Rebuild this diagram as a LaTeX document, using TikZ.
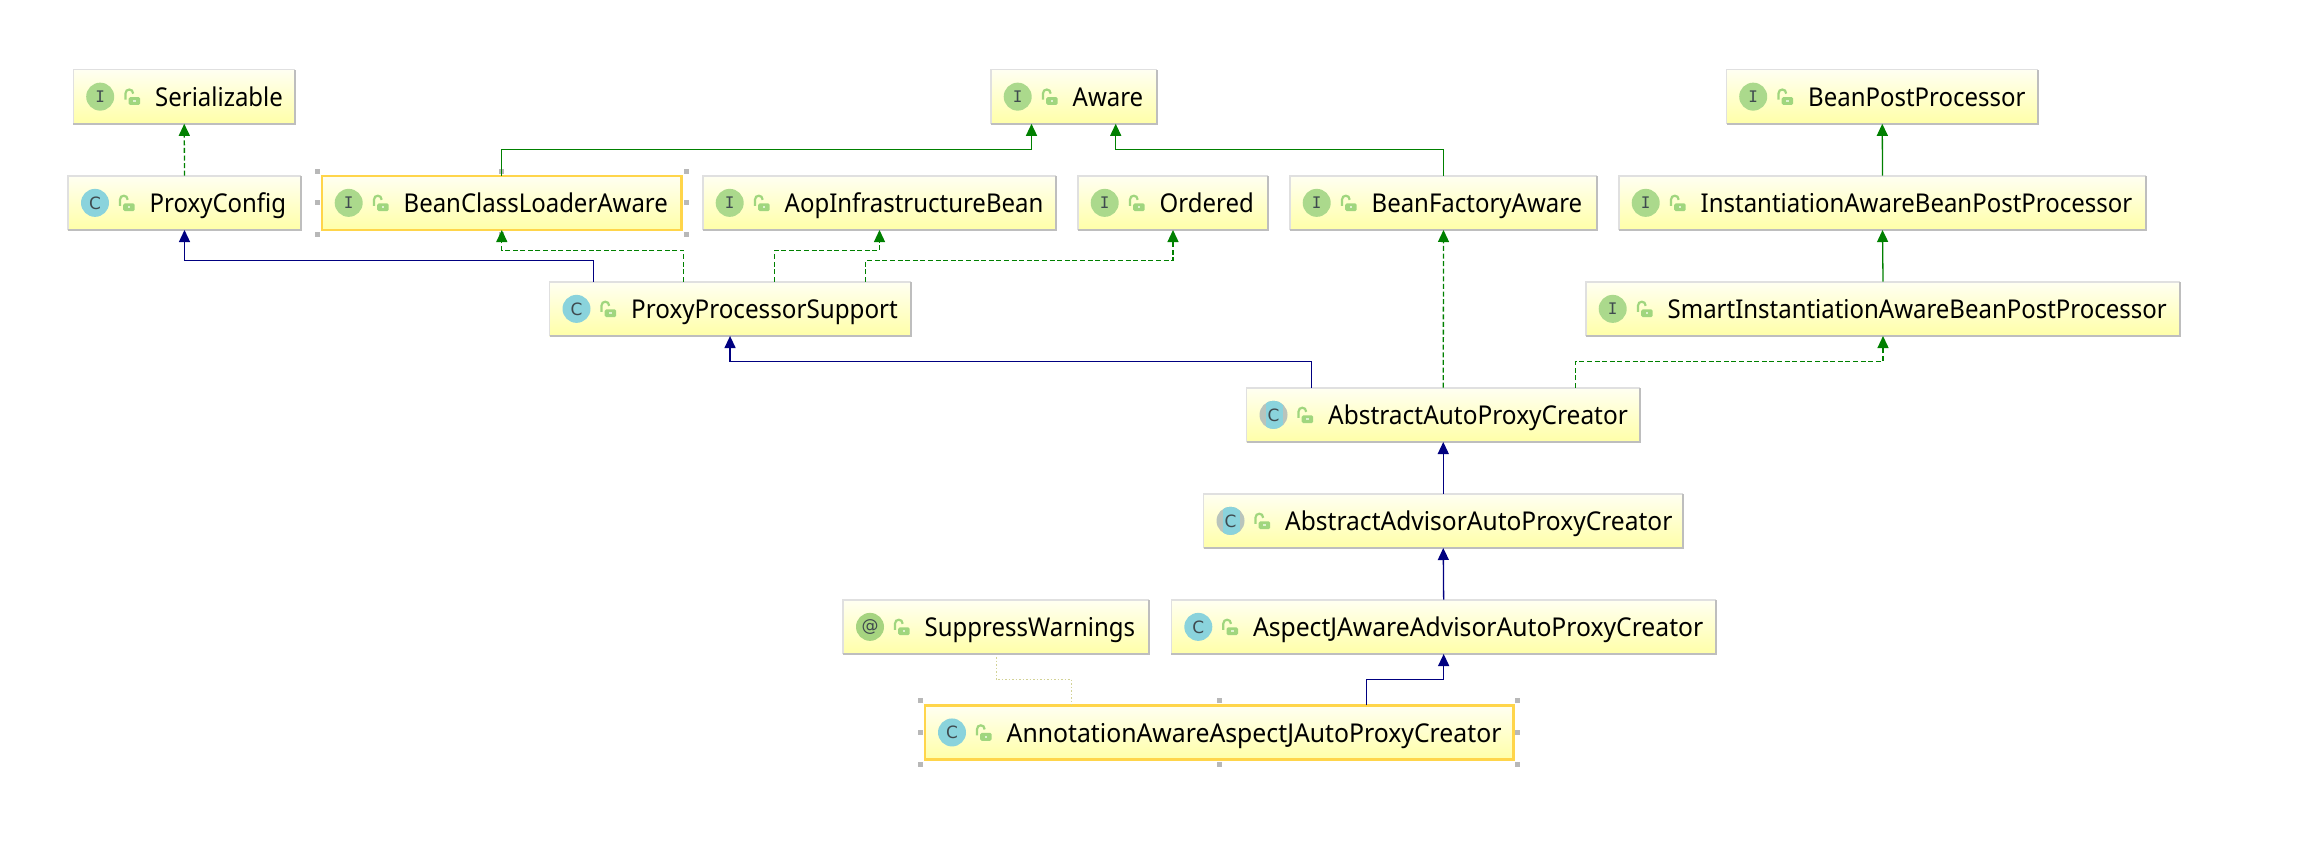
\documentclass[tikz,border=0pt]{standalone}
\usepackage{fontspec}
\usepackage{graphicx}
\setmainfont[FakeStretch=0.925]{Noto Sans}
\newfontfamily\iconmono{DejaVu Sans Mono}
\newfontfamily\iconsans{DejaVu Sans}
\usetikzlibrary{arrows.meta,calc}
\definecolor{impl}{HTML}{008000}
\definecolor{ext}{HTML}{000080}
\definecolor{ifcol}{HTML}{ABD98C}
\definecolor{clcol}{HTML}{8AD3DC}
\definecolor{atcol}{HTML}{A6D480}
\definecolor{lockcol}{HTML}{A0D67E}
\definecolor{lockdot}{HTML}{DDF2CF}
\definecolor{sel}{HTML}{FFD54A}
\definecolor{edgelt}{HTML}{E0E0E0}
\definecolor{edgedk}{HTML}{BEBEBE}
\definecolor{letter}{HTML}{3F4A4F}
\definecolor{gradtop}{HTML}{FFFFF2}
\definecolor{gradbot}{HTML}{FFFFA8}
\definecolor{absgray}{HTML}{B9C4BC}
\definecolor{dotcol}{HTML}{D2D296}
\definecolor{handlecol}{HTML}{B8B8B8}
\tikzset{
 boxbase/.style={rectangle,inner sep=0pt,outer sep=0pt,minimum height=54.3bp,top color=gradtop,bottom color=gradbot},
 lightedge/.style={draw=edgelt,line width=1.6bp},
 darkedge/.style={draw=edgedk,line width=2bp},
 seledge/.style={draw=sel,line width=2.4bp},
 handle/.style={rectangle,fill=handlecol,draw=none,minimum size=5bp,inner sep=0pt},
 iconcirc/.style={circle,minimum size=28bp,inner sep=0pt,text=letter},
 lab/.style={anchor=base west,inner sep=0pt,font=\fontsize{26}{30}\selectfont,text=black},
 real/.style={-{Triangle[width=11bp,length=12bp]},line width=1.3bp},
 dsh/.style={real,dash pattern=on 5bp off 2.6bp},
 lockpic/.pic={
  \draw[lockcol,line width=2.2bp] (1.2,3) -- (1.2,-3) .. controls (1.2,-8.5) and (9,-8.5) .. (9,-3);
  \fill[lockcol,rounded corners=1.5bp] (4.5,0.5) rectangle (16,8.3);
  \fill[lockdot] (9,3.2) rectangle (11.6,5.6);
 }
}
\newcommand{\iconI}[1]{\node[iconcirc,fill=ifcol,font=\iconmono\fontsize{16}{16}\selectfont] (#1-i) at ([xshift=26.7bp]#1.west) {I};}
\newcommand{\iconC}[1]{\node[iconcirc,fill=clcol,font=\iconsans\fontsize{17}{17}\selectfont] (#1-i) at ([xshift=27bp]#1.west) {C};}
\newcommand{\iconA}[1]{\node[iconcirc,fill=atcol,font=\iconsans\fontsize{17}{17}\selectfont] (#1-i) at ([xshift=27bp]#1.west) {@};}
\newcommand{\iconB}[1]{%
 \node[iconcirc,fill=absgray] (#1-i) at ([xshift=27bp]#1.west) {};
 \begin{scope}\clip (#1-i.center) circle (14bp);
  \fill[clcol] ([xshift=-8bp,yshift=15bp]#1-i.center) rectangle ([xshift=9bp,yshift=-15bp]#1-i.center);
 \end{scope}
 \node[font=\iconsans\fontsize{17}{17}\selectfont,text=letter,inner sep=0pt] at (#1-i.center) {C};}
\newcommand{\umlbox}[7][1]{%
 \pgfmathsetmacro\cxx{(#3+#4)/2}\pgfmathsetmacro\wdd{#4-#3}\pgfmathsetmacro\cyy{#5+27.15}
 \node[boxbase,minimum width=\wdd bp] (#2) at (\cxx,\cyy) {};
 \draw[lightedge] (#2.south west) |- (#2.north east);
 \draw[darkedge] (#2.south west) -| (#2.north east);
 \csname icon#6\endcsname{#2}
 \pic at ([xshift=50.7bp]#2.west) {lockpic};
 \node[lab] (#2-t) at ([xshift=81.5bp,yshift=-10bp]#2.west) {\scalebox{#1}[1]{#7}};}
\newcommand{\selmark}[1]{%
 \draw[seledge] (#1.south west) rectangle (#1.north east);
 \foreach \a/\dx/\dy in {north west/-4.5/4.5,north/0/4.5,north east/4.5/4.5,west/-4.5/0,east/4.5/0,south west/-4.5/-4.5,south/0/-4.5,south east/4.5/-4.5}
  {\node[handle] at ([xshift=\dx bp,yshift=\dy bp]#1.\a) {};}}
\begin{document}
\begin{tikzpicture}[x=1bp,y=-1bp]
\useasboundingbox[fill=white] (0,0) rectangle (2324,853);
\umlbox{ser}{73.5}{295}{69.5}{I}{Serializable}
\umlbox{aware}{991}{1157}{69.5}{I}{Aware}
\umlbox{bpp}{1726.5}{2038}{69.5}{I}{BeanPostProcessor}
\umlbox{pc}{68}{301}{175.7}{C}{ProxyConfig}
\umlbox{bcl}{322}{681.6}{175.7}{I}{BeanClassLoaderAware}
\umlbox{aop}{703}{1056}{175.7}{I}{AopInfrastructureBean}
\umlbox{ord}{1078}{1268}{175.7}{I}{Ordered}
\umlbox{bfa}{1290}{1597}{175.7}{I}{BeanFactoryAware}
\umlbox{inst}{1619}{2146}{175.7}{I}{InstantiationAwareBeanPostProcessor}
\umlbox[1.01]{pps}{549.5}{910.6}{281.7}{C}{ProxyProcessorSupport}
\umlbox{smart}{1586}{2180}{281.7}{I}{SmartInstantiationAwareBeanPostProcessor}
\umlbox[1.02]{abs}{1246.5}{1640}{387.7}{B}{AbstractAutoProxyCreator}
\umlbox[1.024]{adv}{1203.5}{1683}{493.7}{B}{AbstractAdvisorAutoProxyCreator}
\umlbox{sw}{843}{1149}{599.7}{A}{SuppressWarnings}
\umlbox[1.03]{asp}{1171.3}{1716}{599.7}{C}{AspectJAwareAdvisorAutoProxyCreator}
\umlbox[1.034]{ann}{925}{1513.4}{705.3}{C}{AnnotationAwareAspectJAutoProxyCreator}
\selmark{bcl}
\selmark{ann}
\draw[dsh,impl] (pc.north) -- (ser.south);
\draw[dsh,impl] ([xshift=-46.3bp]pps.north) -- ++(0,-31.4) -| (bcl.south);
\draw[dsh,impl] ([xshift=44.5bp]pps.north) -- ++(0,-31.4) -| (aop.south);
\draw[dsh,impl] ([xshift=135.7bp]pps.north) -- ++(0,-21.4) -| (ord.south);
\draw[dsh,impl] (abs.north) -- (bfa.south);
\draw[dsh,impl] ([xshift=132.2bp]abs.north) -- ++(0,-26.4) -| (smart.south);
\draw[real,impl] (bcl.north) -- ++(0,-26.4) -| ([xshift=-42.5bp]aware.south);
\draw[real,impl] (bfa.north) -- ++(0,-26.4) -| ([xshift=41.7bp]aware.south);
\draw[real,impl] (inst.north) -- (bpp.south);
\draw[real,impl] (smart.north) -- (inst.south);
\draw[real,ext] ([xshift=-136.6bp]pps.north) -- ++(0,-21.4) -| (pc.south);
\draw[real,ext] ([xshift=-131.8bp]abs.north) -- ++(0,-26.4) -| (pps.south);
\draw[real,ext] (adv.north) -- (abs.south);
\draw[real,ext] (asp.north) -- (adv.south);
\draw[real,ext] ([xshift=147.3bp]ann.north) -- ++(0,-26) -| (asp.south);
\draw[line width=1bp,draw=dotcol,dash pattern=on 1.5bp off 2bp] ([yshift=-3bp]sw.south) -- ++(0,22.3) -| ([xshift=-147.8bp]ann.north);
\end{tikzpicture}
\end{document}
